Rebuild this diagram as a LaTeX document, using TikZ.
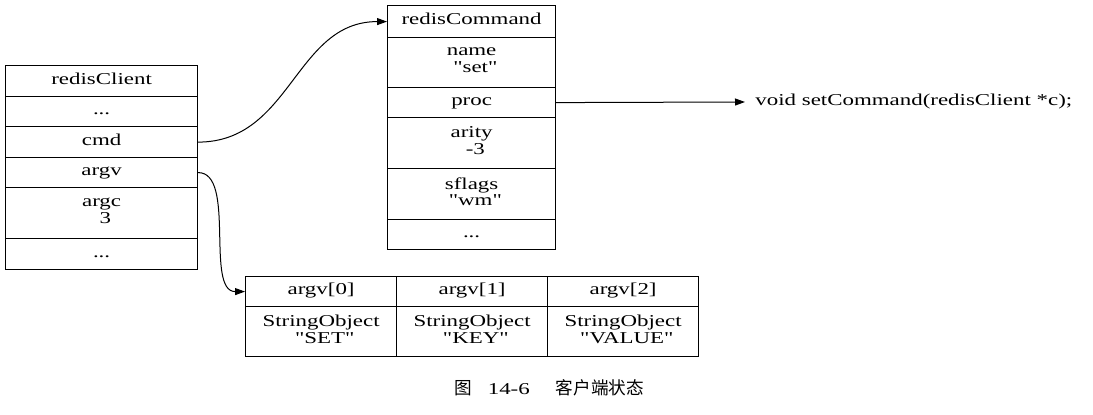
\documentclass[tikz,border=0pt]{standalone}
\usepackage{fontspec}
\setmainfont{Liberation Serif}[FakeStretch=1.38, Ligatures=TeXOff]
\newfontfamily\cjk{Noto Sans CJK SC}
\usetikzlibrary{arrows.meta}

\tikzset{
  cell/.style={draw, line width=0.6pt, inner sep=0pt, anchor=north west, align=center,
    execute at begin node=\strut},
  clientcell/.style={cell, minimum width=96pt},
  cmdcell/.style={cell, minimum width=84pt},
  argcell/.style={cell, minimum width=75.5pt},
  link/.style={->, >={Triangle[length=5pt, width=3.5pt]}, line width=0.5pt}
}
\newcommand{\field}[2]{#1\\\hspace*{.45em}#2}

\begin{document}
\begin{tikzpicture}[x=0.5pt, y=-0.5pt, font=\fontsize{8.3}{8.3}\selectfont]
  \fill [white] (0, 0) rectangle (1093, 415);

  % redisClient
  \node [clientcell, minimum height=15.5pt] (client) at (5, 65) {redisClient};
  \node [clientcell, minimum height=15pt] (clienttop) at (5, 96) {...};
  \node [clientcell, minimum height=15.5pt] (cmd) at (5, 126) {cmd};
  \node [clientcell, minimum height=15pt] (argv) at (5, 157) {argv};
  \node [clientcell, minimum height=25.5pt] (argc) at (5, 187) {\field{argc}{3}};
  \node [clientcell, minimum height=15.5pt] (clientend) at (5, 238) {...};

  % redisCommand
  \node [cmdcell, minimum height=16pt] (command) at (387, 5) {redisCommand};
  \node [cmdcell, minimum height=25pt] (name) at (387, 37) {\field{name}{"set"}};
  \node [cmdcell, minimum height=15pt] (proc) at (387, 87) {proc};
  \node [cmdcell, minimum height=25.5pt] (arity) at (387, 117) {\field{arity}{-3}};
  \node [cmdcell, minimum height=25.5pt] (sflags) at (387, 168) {\field{sflags}{"wm"}};
  \node [cmdcell, minimum height=15pt] (commandend) at (387, 219) {...};

  % argv array
  \node [argcell, minimum height=15pt] (arg0) at (245, 276) {argv[0]};
  \node [argcell, minimum height=15pt] (arg1) at (396, 276) {argv[1]};
  \node [argcell, minimum height=15pt] (arg2) at (547, 276) {argv[2]};
  \node [argcell, minimum height=25pt] (obj0) at (245, 306) {\field{StringObject}{"SET"}};
  \node [argcell, minimum height=25pt] (obj1) at (396, 306) {\field{StringObject}{"KEY"}};
  \node [argcell, minimum height=25pt] (obj2) at (547, 306) {\field{StringObject}{"VALUE"}};

  \node [anchor=west, inner sep=0pt, inner xsep=5pt] (func) at (745, 102) {void setCommand(redisClient *c);};

  \draw [link] (cmd.east) .. controls +(93, 0) and +(-92, 0) .. (command.west);
  \draw [link] (argv.east) .. controls +(38, 0) and +(-40, 0) .. (arg0.west);
  \draw [link] (proc.east) -- (func.west);

  \node (caption) at (549, 388) {{\cjk\fontsize{8.8}{9}\selectfont 图}\hspace{8pt}14-6\hspace{13pt}{\cjk\fontsize{8.8}{9}\selectfont 客户端状态}};
\end{tikzpicture}
\end{document}
